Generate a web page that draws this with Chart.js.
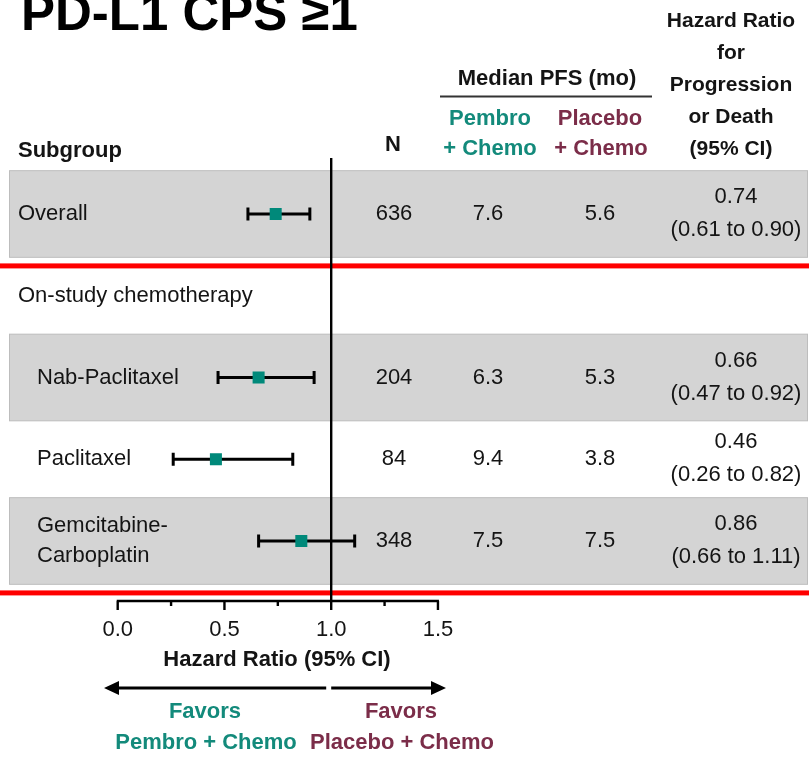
<!DOCTYPE html>
<html>
<head>
<meta charset="utf-8">
<script src="https://cdn.jsdelivr.net/npm/chart.js@4/dist/chart.umd.min.js"></script>
<style>
  html, body { margin: 0; padding: 0; background: #ffffff; }
  #wrap { width: 809px; height: 757px; }
</style>
</head>
<body>
<div id="wrap"><canvas id="forest" width="809" height="757"></canvas></div>
<script>
// Subgroup rows (the second row is a section heading without an estimate)
const rowLabels = ['Overall', 'On-study chemotherapy', 'Nab-Paclitaxel', 'Paclitaxel', 'Gemcitabine-\nCarboplatin'];
const sampleN   = [636, null, 204, 84, 348];
const pfsPembro = [7.6, null, 6.3, 9.4, 7.5];
const pfsPlacebo= [5.6, null, 5.3, 3.8, 7.5];
const hazard    = [0.74, null, 0.66, 0.46, 0.86];
const ciLow     = [0.61, null, 0.47, 0.26, 0.66];
const ciHigh    = [0.90, null, 0.92, 0.82, 1.11];
const shadedRows = [0, 2, 4];
const ruleAfterRows = [0, 4];
const xTicks = [0, 0.25, 0.5, 0.75, 1.0, 1.25, 1.5];
const xTickLabels = ['0.0', '', '0.5', '', '1.0', '', '1.5'];

const TEAL = '#138a7b';
const MAROON = '#7b2d49';
const INK = '#141414';
const FONT = '"Liberation Sans", Arial, sans-serif';

function txt(ctx, s, x, y, size, opts = {}) {
  ctx.save();
  ctx.font = (opts.bold ? 'bold ' : '') + size + 'px ' + FONT;
  ctx.fillStyle = opts.color || INK;
  ctx.textAlign = opts.align || 'center';
  ctx.textBaseline = opts.baseline || 'middle';
  ctx.fillText(s, x, y);
  ctx.restore();
}

const forestPlugin = {
  id: 'forestDecor',
  beforeDatasetsDraw(chart) {
    const ctx = chart.ctx;
    const xs = chart.scales.x, ys = chart.scales.y;
    ctx.save();
    // shaded bands
    shadedRows.forEach(r => {
      const top = ys.getPixelForValue(r - 0.53);
      const bot = ys.getPixelForValue(r + 0.53);
      ctx.fillStyle = '#d4d4d4';
      ctx.fillRect(9.5, top, 798, bot - top);
      ctx.strokeStyle = '#bdbdbd';
      ctx.lineWidth = 1;
      ctx.strokeRect(9.5, top, 798, bot - top);
    });
    // red separators
    ruleAfterRows.forEach(r => {
      const y = ys.getPixelForValue(r + 0.635);
      ctx.fillStyle = '#ff0000';
      ctx.fillRect(0, y - 2.5, 809, 5);
    });
    // line of no effect
    const x1 = xs.getPixelForValue(1.0);
    ctx.strokeStyle = '#000';
    ctx.lineWidth = 2.4;
    ctx.beginPath();
    ctx.moveTo(x1, 158);
    ctx.lineTo(x1, 602);
    ctx.stroke();
    // confidence intervals
    ctx.lineWidth = 3;
    hazard.forEach((h, i) => {
      if (h === null) return;
      const y = ys.getPixelForValue(i);
      const a = xs.getPixelForValue(ciLow[i]);
      const b = xs.getPixelForValue(ciHigh[i]);
      ctx.beginPath();
      ctx.moveTo(a, y); ctx.lineTo(b, y);
      ctx.moveTo(a, y - 6.5); ctx.lineTo(a, y + 6.5);
      ctx.moveTo(b, y - 6.5); ctx.lineTo(b, y + 6.5);
      ctx.stroke();
    });
    ctx.restore();
  },
  afterDatasetsDraw(chart) {
    const ctx = chart.ctx;
    const xs = chart.scales.x, ys = chart.scales.y;

    // title
    txt(ctx, 'PD-L1 CPS \u22651', 21, 30, 51, { bold: true, align: 'left', baseline: 'alphabetic', color: '#000' });

    // column headers
    txt(ctx, 'Subgroup', 18, 151, 22, { bold: true, align: 'left' });
    txt(ctx, 'N', 393, 145, 22, { bold: true });
    txt(ctx, 'Median PFS (mo)', 547, 79, 22, { bold: true });
    ctx.save();
    ctx.strokeStyle = '#333';
    ctx.lineWidth = 2;
    ctx.beginPath(); ctx.moveTo(440, 96.5); ctx.lineTo(652, 96.5); ctx.stroke();
    ctx.restore();
    txt(ctx, 'Pembro', 490, 119, 22, { bold: true, color: TEAL });
    txt(ctx, '+ Chemo', 490, 149, 22, { bold: true, color: TEAL });
    txt(ctx, 'Placebo', 600, 119, 22, { bold: true, color: MAROON });
    txt(ctx, '+ Chemo', 601, 149, 22, { bold: true, color: MAROON });
    ['Hazard Ratio', 'for', 'Progression', 'or Death', '(95% CI)'].forEach((s, k) => {
      txt(ctx, s, 731, 21 + k * 32, 21, { bold: true });
    });

    // rows
    rowLabels.forEach((label, i) => {
      const y = ys.getPixelForValue(i);
      const indent = (i === 0 || hazard[i] === null) ? 18 : 37;
      const lines = label.split('\n');
      lines.forEach((s, k) => {
        txt(ctx, s, indent, y + (k - (lines.length - 1) / 2) * 30, 22, { align: 'left' });
      });
      if (hazard[i] === null) return;
      txt(ctx, String(sampleN[i]), 394, y, 22);
      txt(ctx, pfsPembro[i].toFixed(1), 488, y, 22);
      txt(ctx, pfsPlacebo[i].toFixed(1), 600, y, 22);
      txt(ctx, hazard[i].toFixed(2), 736, y - 17, 22);
      txt(ctx, '(' + ciLow[i].toFixed(2) + ' to ' + ciHigh[i].toFixed(2) + ')', 736, y + 16, 22);
    });

    // x axis
    const axisY = 601;
    ctx.save();
    ctx.strokeStyle = '#000';
    ctx.lineWidth = 2.4;
    ctx.beginPath();
    ctx.moveTo(xs.getPixelForValue(xTicks[0]) - 1, axisY);
    ctx.lineTo(xs.getPixelForValue(xTicks[xTicks.length - 1]) + 1, axisY);
    xTicks.forEach((t, k) => {
      const px = xs.getPixelForValue(t);
      ctx.moveTo(px, axisY);
      ctx.lineTo(px, axisY + (xTickLabels[k] ? 9 : 5));
    });
    ctx.stroke();
    ctx.restore();
    xTicks.forEach((t, k) => {
      if (xTickLabels[k]) txt(ctx, xTickLabels[k], xs.getPixelForValue(t), 630, 22);
    });
    txt(ctx, 'Hazard Ratio (95% CI)', 277, 660, 22, { bold: true });

    // direction arrows
    const ay = 688;
    const left = 104, mid = xs.getPixelForValue(1.0), right = 446;
    ctx.save();
    ctx.strokeStyle = '#000';
    ctx.fillStyle = '#000';
    ctx.lineWidth = 3;
    ctx.beginPath();
    ctx.moveTo(left + 12, ay); ctx.lineTo(mid - 5, ay);
    ctx.moveTo(mid + 0, ay); ctx.lineTo(right - 12, ay);
    ctx.stroke();
    ctx.beginPath();
    ctx.moveTo(left, ay); ctx.lineTo(left + 15, ay - 7); ctx.lineTo(left + 15, ay + 7); ctx.closePath();
    ctx.moveTo(right, ay); ctx.lineTo(right - 15, ay - 7); ctx.lineTo(right - 15, ay + 7); ctx.closePath();
    ctx.fill();
    ctx.restore();
    txt(ctx, 'Favors', 205, 712, 22, { bold: true, color: TEAL });
    txt(ctx, 'Pembro + Chemo', 206, 743, 22, { bold: true, color: TEAL });
    txt(ctx, 'Favors', 401, 712, 22, { bold: true, color: MAROON });
    txt(ctx, 'Placebo + Chemo', 402, 743, 22, { bold: true, color: MAROON });
  }
};

// scale windows chosen so that HR 0 sits at x=118, HR 1.5 at x=438 and rows are ~82px apart
const X_UNIT = 213.5, X_ZERO = 117.7;
const Y_UNIT = 81.75, Y_FIRST = 214;

new Chart(document.getElementById('forest'), {
  type: 'scatter',
  data: {
    datasets: [{
      data: hazard.map((h, i) => (h === null ? null : { x: h, y: i })).filter(p => p),
      pointStyle: 'rect',
      radius: 8.5,
      hoverRadius: 8.5,
      backgroundColor: '#00897a',
      borderColor: '#00897a',
      borderWidth: 0,
      clip: false
    }]
  },
  options: {
    responsive: false,
    animation: false,
    devicePixelRatio: 1,
    layout: { padding: 0, autoPadding: false },
    plugins: { legend: { display: false }, tooltip: { enabled: false } },
    events: [],
    scales: {
      x: { type: 'linear', display: false, min: -X_ZERO / X_UNIT, max: (809 - X_ZERO) / X_UNIT },
      y: { type: 'linear', display: false, reverse: true, min: -Y_FIRST / Y_UNIT, max: (757 - Y_FIRST) / Y_UNIT }
    }
  },
  plugins: [forestPlugin]
});
</script>
</body>
</html>
